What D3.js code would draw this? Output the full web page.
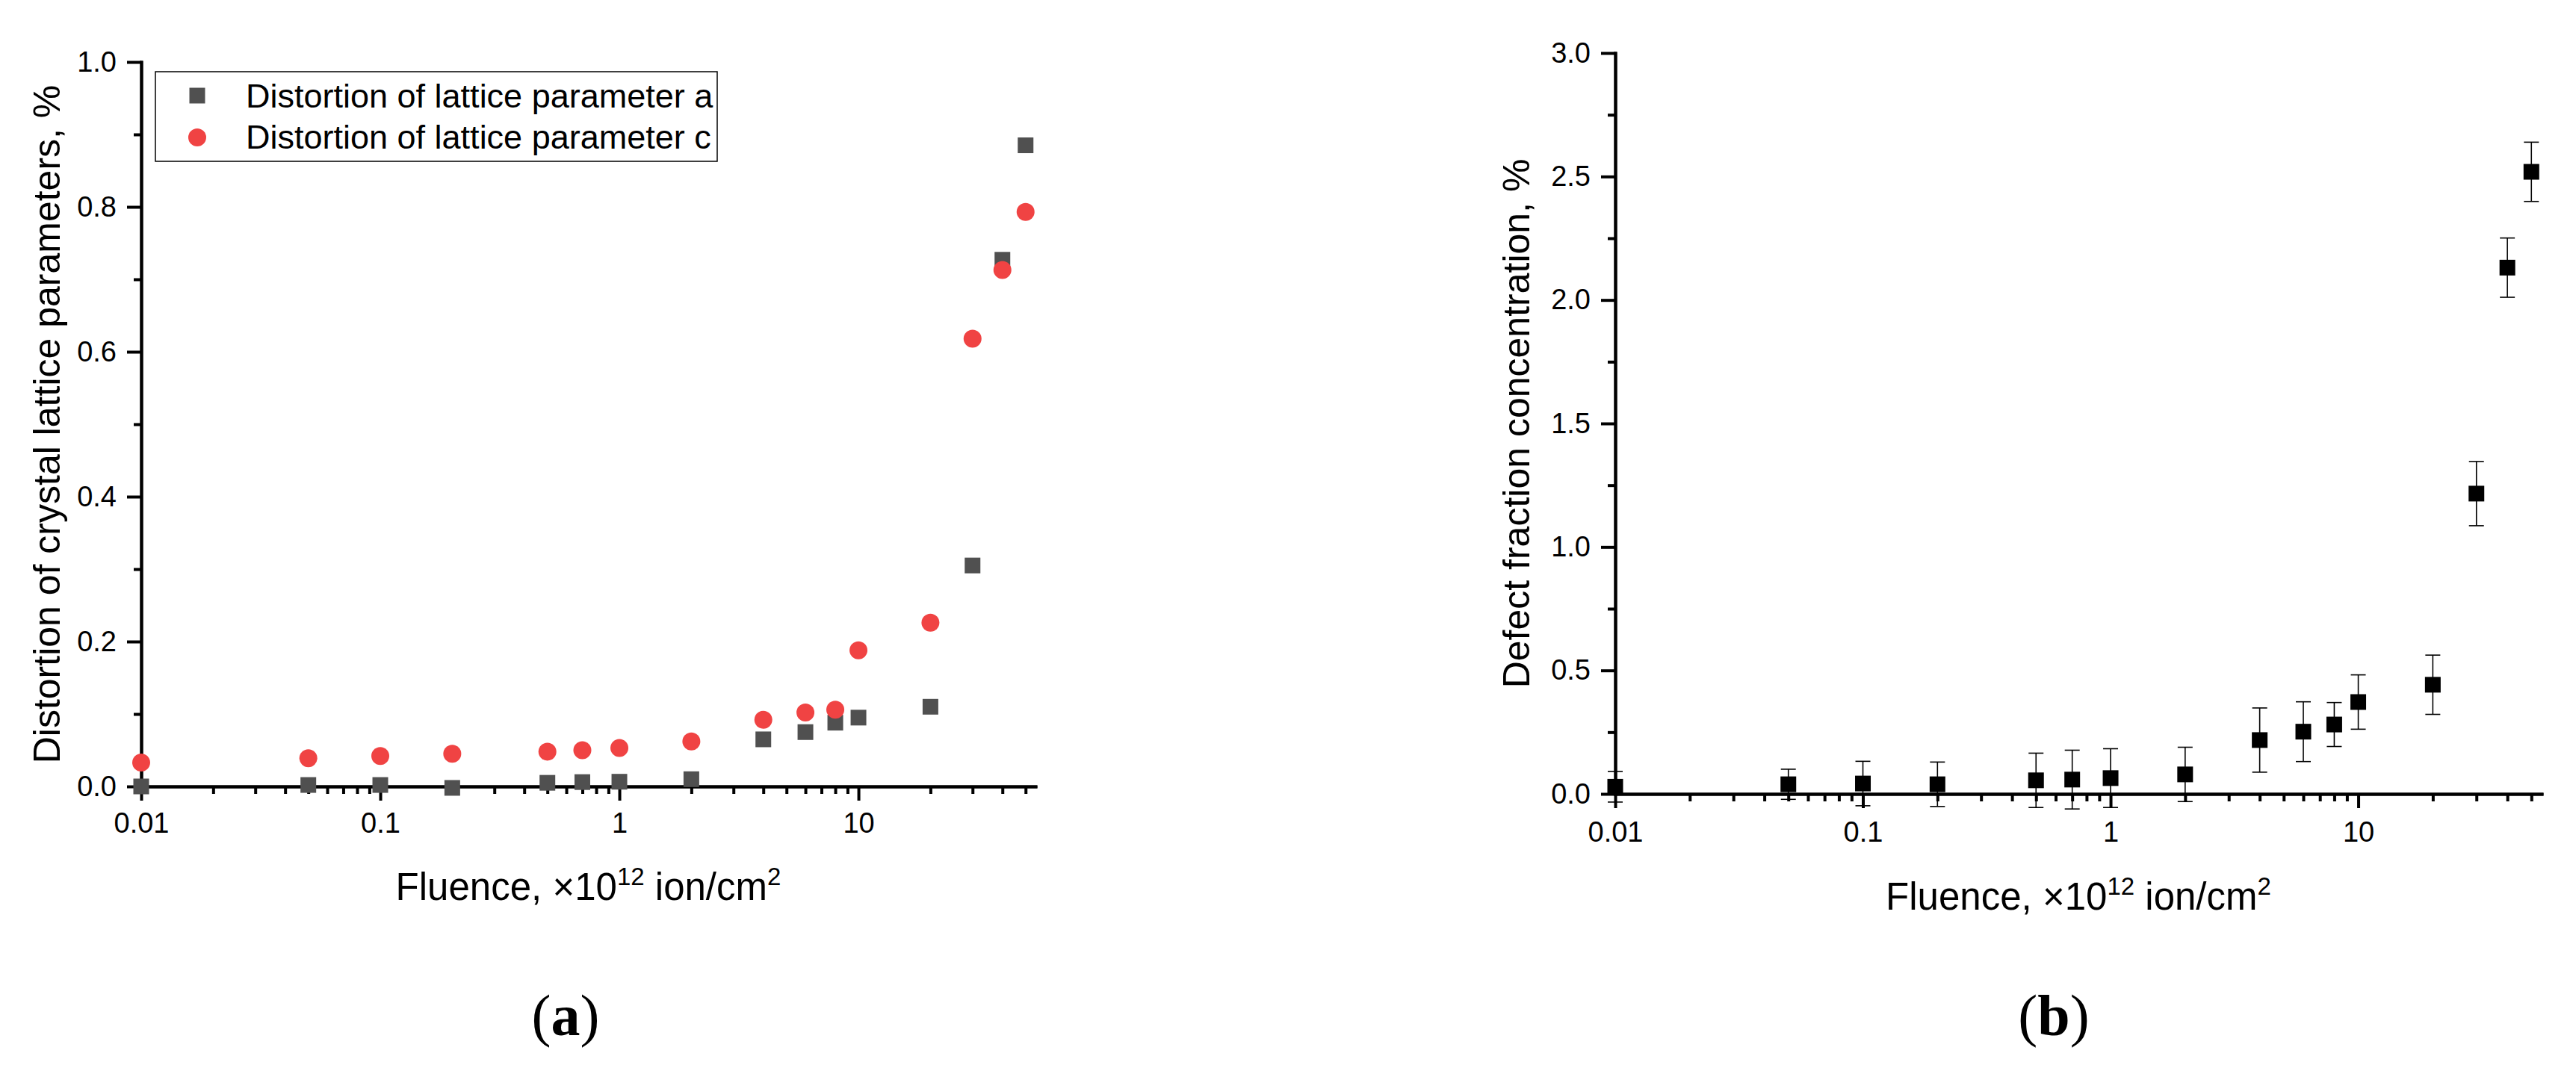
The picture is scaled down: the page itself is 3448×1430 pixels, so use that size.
<!DOCTYPE html>
<html>
<head>
<meta charset="utf-8">
<script src="https://cdn.jsdelivr.net/npm/d3@7"></script>
<style>
  html, body { margin: 0; padding: 0; background: #fff; }
  svg text { font-family: "Liberation Sans", Arial, sans-serif; fill: #000; }
</style>
</head>
<body>
<div id="chart"></div>
<script>
// fluence values, x10^12 ion/cm^2
var fluence = [0.01, 0.05, 0.1, 0.2, 0.5, 0.7, 1, 2, 4, 6, 8, 10, 20, 30, 40, 50];

// panel (a): distortion of lattice parameters, %
var distortionA = [0.0, 0.002, 0.002, -0.002, 0.005, 0.006, 0.0065, 0.010, 0.065, 0.075, 0.088, 0.095, 0.110, 0.305, 0.727, 0.885];
var distortionC = [0.033, 0.039, 0.042, 0.045, 0.048, 0.050, 0.053, 0.062, 0.092, 0.102, 0.106, 0.188, 0.226, 0.618, 0.713, 0.793];

// panel (b): defect fraction concentration, % and its error
var defectConc = [0.029, 0.039, 0.042, 0.039, 0.055, 0.058, 0.064, 0.079, 0.218, 0.252, 0.281, 0.372, 0.442, 1.216, 2.131, 2.519];
var defectErr  = [0.062, 0.061, 0.090, 0.090, 0.110, 0.119, 0.119, 0.110, 0.130, 0.121, 0.089, 0.110, 0.120, 0.130, 0.120, 0.120];

var xMajorTicks = [0.01, 0.1, 1, 10];
var yTicksA = [0, 0.2, 0.4, 0.6, 0.8, 1.0];
var yTicksB = [0, 0.5, 1.0, 1.5, 2.0, 2.5, 3.0];
var legendNames = ["Distortion of lattice parameter a", "Distortion of lattice parameter c"];

var width = 3448, height = 1430;
var colourA = "#505050", colourC = "#f04343";
var majorLen = 19, minorLen = 10, axisWidth = 4;

var svg = d3.select("#chart").append("svg")
  .attr("width", width)
  .attr("height", height);

function minorLogTicks(domain) {
  // 2..9 multiples of every decade inside the domain
  var out = [];
  for (var e = -2; e <= 1; e++) {
    for (var m = 2; m <= 9; m++) {
      var v = m * Math.pow(10, e);
      if (v > domain[0] && v <= domain[1]) out.push(+v.toPrecision(3));
    }
  }
  return out;
}

function drawPanel(p) {
  var g = svg.append("g");

  var x = d3.scaleLog().domain([0.01, 55]).range([p.left, p.right]);
  var y = d3.scaleLinear().domain(p.yDomain).range([p.bottom, p.top]);

  // minor ticks first
  g.append("g")
    .attr("transform", "translate(0," + p.bottom + ")")
    .call(d3.axisBottom(x).tickValues(minorLogTicks(x.domain())).tickSize(minorLen).tickFormat("").tickSizeOuter(0));
  var yMinor = [];
  for (var i = 0; i < p.yTicks.length - 1; i++) yMinor.push((p.yTicks[i] + p.yTicks[i + 1]) / 2);
  g.append("g")
    .attr("transform", "translate(" + p.left + ",0)")
    .call(d3.axisLeft(y).tickValues(yMinor).tickSize(minorLen).tickFormat("").tickSizeOuter(0));

  // major x axis
  g.append("g")
    .attr("class", "xaxis")
    .attr("transform", "translate(0," + p.bottom + ")")
    .call(d3.axisBottom(x).tickValues(xMajorTicks).tickSize(majorLen).tickPadding(p.xPad)
      .tickFormat(function(d) { return String(d); }).tickSizeOuter(0));

  // major y axis
  g.append("g")
    .attr("class", "yaxis")
    .attr("transform", "translate(" + p.left + ",0)")
    .call(d3.axisLeft(y).tickValues(p.yTicks).tickSize(majorLen).tickPadding(14)
      .tickFormat(d3.format(".1f")).tickSizeOuter(0));

  g.selectAll(".tick line").attr("stroke", "#000").attr("stroke-width", axisWidth);
  g.selectAll(".domain").attr("stroke", "#000").attr("stroke-width", axisWidth).attr("stroke-linecap", "square");
  g.selectAll(".tick text").style("font-size", "38px").attr("fill", "#000");

  // x axis title
  var xt = g.append("text")
    .attr("x", (p.left + p.right) / 2)
    .attr("y", p.xTitleY)
    .attr("text-anchor", "middle")
    .style("font-size", "51px");
  xt.append("tspan").text("Fluence, \u00d710");
  xt.append("tspan").attr("dy", -20).style("font-size", "33px").text("12");
  xt.append("tspan").attr("dy", 20).text(" ion/cm");
  xt.append("tspan").attr("dy", -20).style("font-size", "33px").text("2");

  // y axis title
  g.append("text")
    .attr("transform", "translate(" + p.yTitleX + "," + ((p.top + p.bottom) / 2) + ") rotate(-90)")
    .attr("text-anchor", "middle")
    .style("font-size", "50px")
    .text(p.yTitle);

  // panel letter
  var lt = g.append("text")
    .attr("x", p.letterX)
    .attr("y", 1386)
    .attr("text-anchor", "middle")
    .style("font-family", "'Liberation Serif', 'Times New Roman', serif")
    .style("font-size", "78px");
  lt.append("tspan").text("(");
  lt.append("tspan").style("font-weight", "bold").text(p.letter);
  lt.append("tspan").text(")");

  return { g: g, x: x, y: y };
}

// ---- panel (a)
var pa = drawPanel({
  left: 189, right: 1386, top: 83, bottom: 1053,
  yDomain: [0, 1], yTicks: yTicksA, xPad: 16,
  xTitleY: 1205, yTitleX: 80,
  yTitle: "Distortion of crystal lattice parameters, %",
  letter: "a", letterX: 757
});

var sq = 21, rad = 12;

pa.g.append("g").selectAll("rect")
  .data(fluence.map(function(f, i) { return { x: f, y: distortionA[i] }; }))
  .enter().append("rect")
  .attr("x", function(d) { return pa.x(d.x) - sq / 2; })
  .attr("y", function(d) { return pa.y(d.y) - sq / 2; })
  .attr("width", sq).attr("height", sq)
  .attr("fill", colourA);

pa.g.append("g").selectAll("circle")
  .data(fluence.map(function(f, i) { return { x: f, y: distortionC[i] }; }))
  .enter().append("circle")
  .attr("cx", function(d) { return pa.x(d.x); })
  .attr("cy", function(d) { return pa.y(d.y); })
  .attr("r", rad)
  .attr("fill", colourC);

// legend
var legend = pa.g.append("g");
legend.append("rect")
  .attr("x", 208).attr("y", 96).attr("width", 752).attr("height", 120)
  .attr("fill", "#fff").attr("stroke", "#000").attr("stroke-width", 1.5);
legend.append("rect")
  .attr("x", 264 - sq / 2).attr("y", 128 - sq / 2).attr("width", sq).attr("height", sq)
  .attr("fill", colourA);
legend.append("circle")
  .attr("cx", 264).attr("cy", 184).attr("r", rad)
  .attr("fill", colourC);
legend.selectAll(".ltext")
  .data(legendNames)
  .enter().append("text")
  .attr("class", "ltext")
  .attr("x", 329)
  .attr("y", function(d, i) { return 144 + i * 55; })
  .style("font-size", "45px")
  .text(function(d) { return d; });

// ---- panel (b)
var pb = drawPanel({
  left: 2162, right: 3402, top: 71, bottom: 1063,
  yDomain: [0, 3], yTicks: yTicksB, xPad: 18,
  xTitleY: 1218, yTitleX: 2047,
  yTitle: "Defect fraction concentration, %",
  letter: "b", letterX: 2749
});

var pointsB = fluence.map(function(f, i) { return { x: f, y: defectConc[i], e: defectErr[i] }; });
var cap = 10;

var errG = pb.g.append("g").attr("stroke", "#000").attr("stroke-width", 1.6);
errG.selectAll(".ev").data(pointsB).enter().append("line")
  .attr("x1", function(d) { return pb.x(d.x); })
  .attr("x2", function(d) { return pb.x(d.x); })
  .attr("y1", function(d) { return pb.y(d.y - d.e); })
  .attr("y2", function(d) { return pb.y(d.y + d.e); });
errG.selectAll(".et").data(pointsB).enter().append("line")
  .attr("x1", function(d) { return pb.x(d.x) - cap; })
  .attr("x2", function(d) { return pb.x(d.x) + cap; })
  .attr("y1", function(d) { return pb.y(d.y + d.e); })
  .attr("y2", function(d) { return pb.y(d.y + d.e); });
errG.selectAll(".eb").data(pointsB).enter().append("line")
  .attr("x1", function(d) { return pb.x(d.x) - cap; })
  .attr("x2", function(d) { return pb.x(d.x) + cap; })
  .attr("y1", function(d) { return pb.y(d.y - d.e); })
  .attr("y2", function(d) { return pb.y(d.y - d.e); });

pb.g.append("g").selectAll("rect")
  .data(pointsB)
  .enter().append("rect")
  .attr("x", function(d) { return pb.x(d.x) - sq / 2; })
  .attr("y", function(d) { return pb.y(d.y) - sq / 2; })
  .attr("width", sq).attr("height", sq)
  .attr("fill", "#000");
</script>
</body>
</html>
